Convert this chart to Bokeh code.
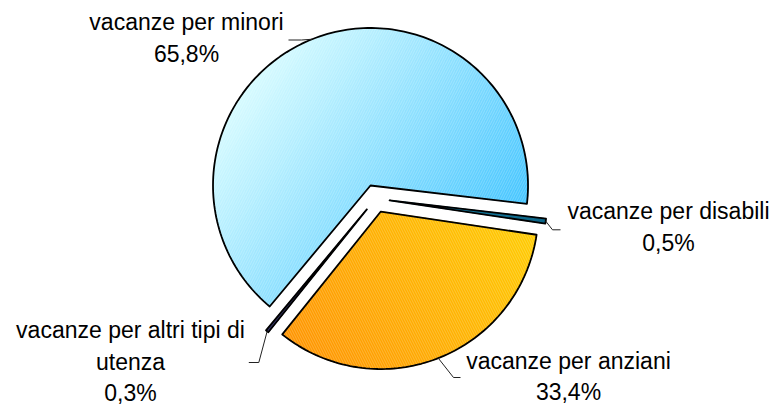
import numpy as np
from bokeh.plotting import figure
from bokeh.models import Range1d
from bokeh.core.properties import value
from bokeh.embed import file_html
from bokeh.resources import INLINE

# ---------------- data ----------------
categories = ["vacanze per minori", "vacanze per disabili",
              "vacanze per anziani", "vacanze per altri tipi di utenza"]
label_lines = [["vacanze per minori"], ["vacanze per disabili"],
               ["vacanze per anziani"], ["vacanze per altri tipi di", "utenza"]]
shares = [65.8, 0.5, 33.4, 0.3]

# ---------------- layout / style ----------------
CX, CY = 375.2, 198.0      # pie centre (page-like coords, y down)
R = 157.5
EXPLODE = 14.0
START_DEG = 230.2           # first slice starts here, slices run clockwise
N_ARC = 240
N_BANDS = 70

grad_dir = [(0.8, 0.6), (1.0, 0.0), (-0.8, 0.6), (1.0, 0.0)]
grad_c0 = ["#d6fbff", "#1b86a8", "#ffcc00", "#3a3a6a"]
grad_c1 = ["#44c5ff", "#0e6688", "#ff9400", "#222244"]
hatch = ["/", " ", "\\", " "]

label_anchor = [(186, 21.5), (668, 210.5), (568, 360.0), (130, 329.5)]
LINE_GAP = 31.5
leader_elbow = [(301, 39.5), (552, 229.3), (453, 377), (258.3, 362)]
leader_end = [(288, 39.5), (560, 229.3), (460, 377), (248.3, 362)]


def hex2rgb(h):
    h = h.lstrip("#")
    return np.array([int(h[i:i + 2], 16) for i in (0, 2, 4)], dtype=float)


def rgb2hex(c):
    c = np.clip(np.round(c), 0, 255).astype(int)
    return "#%02x%02x%02x" % tuple(c)


def clip_half(poly, g, a, sign):
    out = []
    n = len(poly)
    for i in range(n):
        P = poly[i]
        Q = poly[(i + 1) % n]
        fp = sign * (P @ g - a)
        fq = sign * (Q @ g - a)
        if fp >= 0:
            out.append(P)
        if (fp >= 0) != (fq >= 0):
            t = fp / (fp - fq)
            out.append(P + t * (Q - P))
    return out


p = figure(width=773, height=405, x_range=Range1d(0, 773), y_range=Range1d(405, 0),
           output_backend="svg", toolbar_location=None, min_border=0, title=None,
           x_axis_location=None, y_axis_location=None)
p.grid.visible = False
p.outline_line_color = None
p.background_fill_color = "white"

total = sum(shares)
angle = START_DEG
band_xs, band_ys, band_cols = [], [], []
out_xs, out_ys = [], []
mids = []
for i, v in enumerate(shares):
    span = 360.0 * v / total
    a0, a1 = angle, angle - span
    mid = np.radians((a0 + a1) / 2)
    ax = CX + EXPLODE * np.cos(mid)
    ay = CY - EXPLODE * np.sin(mid)
    th = np.radians(np.linspace(a0, a1, max(4, int(N_ARC * span / 360) + 4)))
    px = np.concatenate([[ax], ax + R * np.cos(th)])
    py = np.concatenate([[ay], ay - R * np.sin(th)])
    poly = [np.array([x, y]) for x, y in zip(px, py)]
    mids.append((ax + R * np.cos(mid), ay - R * np.sin(mid)))

    g = np.array(grad_dir[i], dtype=float)
    g = g / np.linalg.norm(g)
    tvals = [q @ g for q in poly]
    tmin, tmax = min(tvals), max(tvals)
    c0, c1 = hex2rgb(grad_c0[i]), hex2rgb(grad_c1[i])
    edges = np.linspace(tmin, tmax, N_BANDS + 1)
    for k in range(N_BANDS):
        lo, hi = edges[k] - 0.3, edges[k + 1] + 0.3
        sub = clip_half(poly, g, lo, 1)
        if len(sub) >= 3:
            sub = clip_half(sub, g, hi, -1)
        if len(sub) >= 3:
            f = (k + 0.5) / N_BANDS
            band_xs.append([q[0] for q in sub])
            band_ys.append([q[1] for q in sub])
            band_cols.append(rgb2hex(c0 + f * (c1 - c0)))
    out_xs.append(list(px))
    out_ys.append(list(py))
    angle = a1

p.patches(band_xs, band_ys, fill_color=band_cols, line_color=band_cols, line_width=1)

for i in range(len(shares)):
    p.patch(out_xs[i], out_ys[i], fill_alpha=0, line_color="black", line_width=1.8,
            line_join="round",
            hatch_pattern=hatch[i], hatch_color="white", hatch_alpha=0.28,
            hatch_scale=5, hatch_weight=0.8)

# leader lines
for i in range(len(shares)):
    mx, my = mids[i]
    ex, ey = leader_elbow[i]
    fx, fy = leader_end[i]
    p.line([mx, ex, fx], [my, ey, fy], line_color="#222222", line_width=1)

# labels
tx, ty, tt = [], [], []
for i, v in enumerate(shares):
    lines = label_lines[i] + [f"{v:.1f}".replace(".", ",") + "%"]
    x0, y0 = label_anchor[i]
    for j, s in enumerate(lines):
        tx.append(x0)
        ty.append(y0 + j * LINE_GAP)
        tt.append(s)
p.text(tx, ty, text=tt, text_font=value("Liberation Sans"), text_font_size=value("23px"),
       text_align="center", text_baseline="alphabetic", text_color="black")

open("out.html", "w").write(file_html(p, INLINE))
